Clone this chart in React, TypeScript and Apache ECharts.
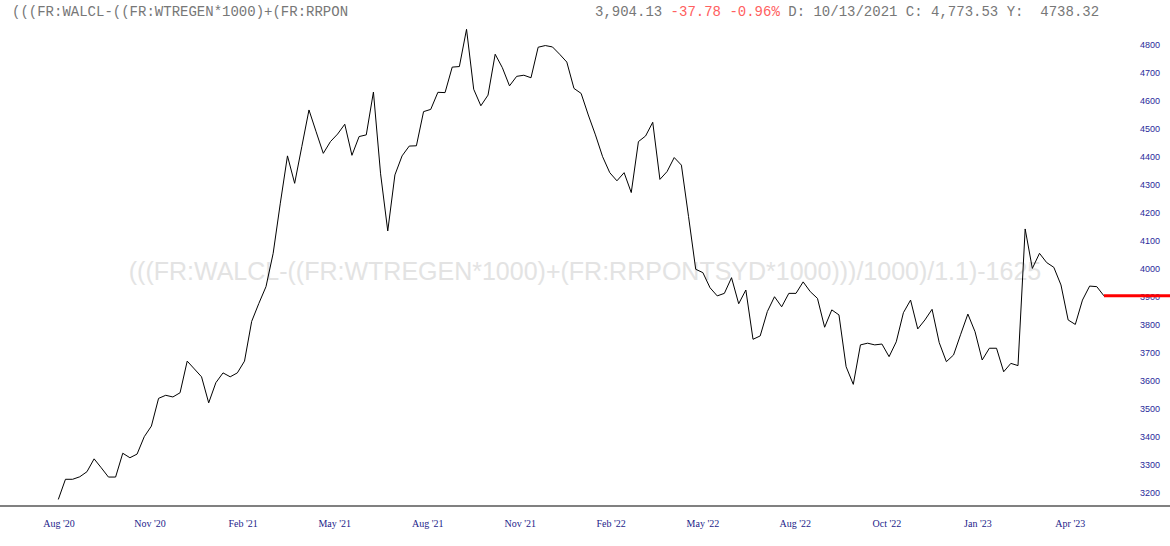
import React, { useEffect, useRef } from "react";
import * as echarts from "echarts";

const values: number[] = [
  3177, 3249, 3249, 3258, 3276, 3322, 3290, 3257, 3257, 3342,
  3326, 3339, 3401, 3439, 3538, 3549, 3543, 3558, 3671, 3643,
  3615, 3522, 3594, 3629, 3615, 3629, 3671, 3813, 3877, 3937,
  4056, 4235, 4404, 4306, 4437, 4568, 4490, 4413, 4455, 4482,
  4517, 4406, 4473, 4479, 4632, 4340, 4136, 4336, 4404, 4439,
  4440, 4562, 4570, 4631, 4630, 4721, 4723, 4856, 4642, 4583,
  4621, 4767, 4719, 4654, 4688, 4692, 4683, 4792, 4798, 4793,
  4767, 4739, 4645, 4627, 4550, 4479, 4401, 4344, 4315, 4344,
  4273, 4455, 4475, 4524, 4320, 4348, 4398, 4371, 4187, 3999,
  3987, 3933, 3904, 3913, 3969, 3876, 3925, 3749, 3761, 3848,
  3901, 3865, 3913, 3913, 3954, 3919, 3895, 3792, 3854, 3836,
  3651, 3588, 3729, 3735, 3729, 3732, 3687, 3740, 3844, 3889,
  3786, 3818, 3856, 3737, 3669, 3693, 3767, 3839, 3776, 3675,
  3717, 3717, 3633, 3663, 3655, 4143, 4002, 4056, 4023, 4006,
  3943, 3818, 3802, 3889, 3939, 3937, 3904.13,
];

const lastValue = 3904.13;

const xTickLabels: string[] = [
  "Aug '20", "Nov '20", "Feb '21", "May '21", "Aug '21", "Nov '21",
  "Feb '22", "May '22", "Aug '22", "Oct '22", "Jan '23", "Apr '23",
];
// tick positions, in weekly-point index units
const xTickPositions: number[] = [0.1, 12.8, 25.8, 38.6, 51.6, 64.5, 77.2, 90.0, 102.9, 115.7, 128.4, 141.3];

const yTicks: number[] = [3200, 3300, 3400, 3500, 3600, 3700, 3800, 3900, 4000, 4100, 4200, 4300, 4400, 4500, 4600, 4700, 4800];

const headerLeft = "(((FR:WALCL-((FR:WTREGEN*1000)+(FR:RRPON";
const headerPrice = "3,904.13";
const headerChange = "-37.78 -0.96%";
const headerRest = "D: 10/13/2021 C: 4,773.53 Y:  4738.32";
const watermark = "(((FR:WALCL-((FR:WTREGEN*1000)+(FR:RRPONTSYD*1000)))/1000)/1.1)-1625";

export default function App() {
  const ref = useRef<HTMLDivElement>(null);

  useEffect(() => {
    if (!ref.current) return;
    const chart = echarts.init(ref.current, undefined, { renderer: "svg" });
    const W = 1170;
    const left0 = 58.3;
    const step = 7.162;
    const xMin = -left0 / step;
    const xMax = (W - left0) / step;
    const lastIdx = values.length - 1;
    const monoFont = "14px 'Liberation Mono', 'Courier New', monospace";

    chart.setOption({
      animation: false,
      backgroundColor: "#ffffff",
      grid: { left: 0, right: 0, top: 25, bottom: 40 },
      xAxis: {
        type: "value",
        min: xMin,
        max: xMax,
        splitLine: { show: false },
        axisTick: { show: false },
        axisLine: { show: true, onZero: false, lineStyle: { color: "#808080", width: 2 } },
        axisLabel: {
          show: true,
          customValues: xTickPositions,
          margin: 12,
          color: "#1c1c8a",
          fontFamily: "Liberation Serif, Times New Roman, serif",
          fontSize: 10,
          formatter: (v: number) => {
            let best = 0;
            let bd = Infinity;
            xTickPositions.forEach((p, i) => {
              const d = Math.abs(p - v);
              if (d < bd) { bd = d; best = i; }
            });
            return xTickLabels[best];
          },
        },
      },
      yAxis: {
        type: "value",
        position: "right",
        min: 3153.6,
        max: 4871.4,
        splitLine: { show: false },
        axisLine: { show: false },
        axisTick: { show: false },
        axisLabel: {
          inside: true,
          margin: 10,
          align: "right",
          customValues: yTicks,
          color: "#2a2a9a",
          fontFamily: "Liberation Sans, Arial, sans-serif",
          fontSize: 9,
          formatter: (v: number) => String(Math.round(v)),
        },
      },
      graphic: [
        {
          type: "text",
          z: 0,
          x: 585,
          y: 271,
          style: {
            text: watermark,
            fill: "#e3e3e3",
            font: "25px 'Liberation Sans', Arial, sans-serif",
            textAlign: "center",
            textVerticalAlign: "middle",
          },
        },
        {
          type: "text",
          x: 12,
          y: 12,
          style: {
            text: headerLeft,
            fill: "#777777",
            font: monoFont,
            textVerticalAlign: "middle",
          },
        },
        {
          type: "text",
          x: 595,
          y: 12,
          style: {
            text: "{g|" + headerPrice + " }{r|" + headerChange + "}{g| " + headerRest + "}",
            font: monoFont,
            textVerticalAlign: "middle",
            rich: {
              g: { fill: "#777777", font: monoFont },
              r: { fill: "#ff6060", font: monoFont },
            },
          },
        },
      ],
      series: [
        {
          type: "line",
          data: values.map((v, i) => [i, v]),
          showSymbol: false,
          lineStyle: { color: "#000000", width: 1 },
          z: 3,
        },
        {
          type: "line",
          data: [[lastIdx, lastValue], [xMax, lastValue]],
          showSymbol: false,
          lineStyle: { color: "#ff0000", width: 3 },
          z: 4,
        },
      ],
    });

    return () => chart.dispose();
  }, []);

  return (
    <div
      ref={ref}
      style={{ position: "fixed", left: 0, top: 0, width: 1170, height: 546, background: "#fff" }}
    />
  );
}
